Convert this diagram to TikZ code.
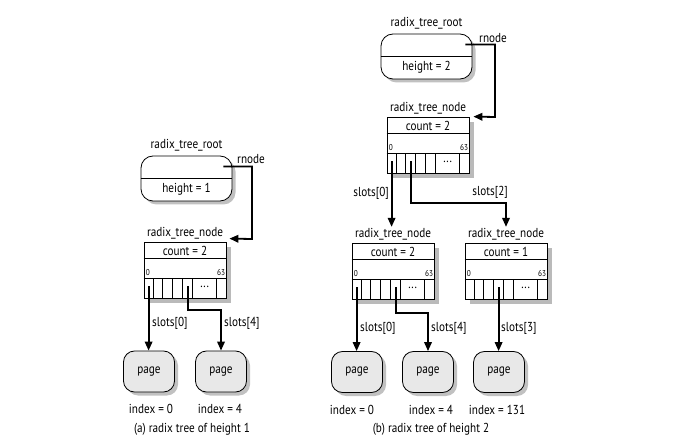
\documentclass[tikz,border=0pt]{standalone}
\usepackage{fontspec}
\setmainfont{PT Sans}[FakeStretch=0.86]
\usetikzlibrary{shadows,calc,arrows.meta}
\tikzset{
  lbl/.style={font=\fontsize{13}{15}\selectfont, inner sep=1pt},
  tiny/.style={font=\fontsize{8.5}{9}\selectfont, inner sep=0pt},
  rootbox/.style={draw, line width=0.8pt, rounded corners=12pt, minimum width=91pt,
    minimum height=45pt, fill=white, inner sep=0pt,
    drop shadow={shadow xshift=3.5pt, shadow yshift=-3.5pt, fill=black!40, opacity=0.6}},
  treebox/.style={draw, line width=0.8pt, minimum width=82pt, minimum height=56pt,
    fill=white, inner sep=0pt,
    drop shadow={shadow xshift=5pt, shadow yshift=-5pt, fill=black!45, opacity=0.6}},
  pagebox/.style={draw, line width=0.8pt, rounded corners=11pt, fill=black!9,
    minimum width=51pt, minimum height=41pt, inner sep=0pt,
    font=\fontsize{13}{15}\selectfont,
    drop shadow={shadow xshift=3.5pt, shadow yshift=-3.5pt, fill=black!40, opacity=0.6}},
  ptr/.style={line width=1.8pt, -{Triangle[length=9pt,width=7.5pt]}},
  thinline/.style={line width=0.6pt},
}
% #1 name, #2 left, #3 top, #4 count
\newcommand{\treenode}[4]{%
  \node[treebox] (#1) at ({#2+41},{#3+28}) {};
  \node[lbl] (#1-t) at ({#2+41},{#3-9}) {radix\_tree\_node};
  \node[lbl] (#1-c) at ({#2+41},{#3+8.5}) {count = #4};
  \draw[thinline] ($(#1.north west)+(0,17)$) -- ($(#1.north east)+(0,17)$);
  \draw[thinline] ($(#1.north west)+(0,37)$) -- ($(#1.north east)+(0,37)$);
  \foreach \dx in {10,19,29,39,49,73}{
    \draw[thinline] ($(#1.north west)+(\dx,37)$) -- ($(#1.north west)+(\dx,56)$);
  }
  \node[tiny, anchor=west] (#1-z) at ($(#1.north west)+(2,31)$) {0};
  \node[tiny, anchor=east] (#1-m) at ($(#1.north east)+(-1,31)$) {63};
  \node[lbl] (#1-d) at ($(#1.north west)+(61,45)$) {...};
  \coordinate (#1-s0) at ($(#1.north west)+(5,44.5)$);
  \coordinate (#1-s1) at ($(#1.north west)+(14.5,44.5)$);
  \coordinate (#1-s2) at ($(#1.north west)+(24,44.5)$);
  \coordinate (#1-s3) at ($(#1.north west)+(34,44.5)$);
  \coordinate (#1-s4) at ($(#1.north west)+(44,44.5)$);
}
% #1 name, #2 left, #3 top, #4 height
\newcommand{\rootnode}[4]{%
  \node[rootbox] (#1) at ({#2+45.5},{#3+22.5}) {};
  \node[lbl] (#1-t) at ({#2+45.5},{#3-11}) {radix\_tree\_root};
  \draw[thinline] (#1.west) -- (#1.east);
  \node[lbl] (#1-h) at ({#2+45.5},{#3+33.5}) {height = #4};
}
\begin{document}
\begin{tikzpicture}[x=1pt,y=-1pt]
\useasboundingbox[fill=white] (0,0) rectangle (680,446);

% ---------------- (a) ----------------
\rootnode{r1}{141}{156}{1}
\treenode{n1}{144}{242}{2}
\coordinate (r1-o) at ($(r1.north east)+(-9,11)$);
\coordinate (a-k) at (252,239);
\coordinate (n1-in) at ($(n1.north east)+(3,-3)$);
\node[lbl] (a-rn) at (251,159) {rnode};
\draw[ptr] (r1-o) -| (a-k) -- (n1-in);

\node[pagebox] (p1) at (149,371.5) {page};
\node[pagebox] (p2) at (221,371.5) {page};
\coordinate (a-b) at (221,310);
\draw[ptr] (n1-s0) -- (n1-s0 |- p1.north);
\draw[ptr] (n1-s4) |- (a-b) -- (p2.north);
\node[lbl, anchor=west] (a-l0) at (151,323) {slots[0]};
\node[lbl, anchor=west] (a-l4) at (223,323) {slots[4]};
\node[lbl] (a-i0) at (151,409) {index = 0};
\node[lbl] (a-i4) at (220,409) {index = 4};
\node[lbl] (a-cap) at (192,429) {(a) radix tree of height 1};

% ---------------- (b) ----------------
\rootnode{r2}{381}{34}{2}
\treenode{n2}{387}{117}{2}
\coordinate (r2-o) at ($(r2.north east)+(-7,11)$);
\coordinate (b-k) at (495,117);
\coordinate (n2-in) at ($(n2.north east)+(4,0)$);
\node[lbl] (b-rn) at (493,38) {rnode};
\draw[ptr] (r2-o) -| (b-k) -- (n2-in);

\treenode{n3}{352}{243}{2}
\treenode{n4}{465}{243}{1}
\coordinate (b-k2) at (506,203);
\draw[ptr] (n2-s0) -- (n2-s0 |- n3-t.north);
\draw[ptr] (n2-s2) |- (b-k2) -- (n4-t.north);
\node[lbl, anchor=east] (b-l0) at (390,193) {slots[0]};
\node[lbl, anchor=south east] (b-l2) at (509,200) {slots[2]};

\node[pagebox] (p3) at (357,372) {page};
\node[pagebox] (p4) at (428,372) {page};
\node[pagebox] (p5) at (499,372) {page};
\coordinate (b-b) at (428,313);
\draw[ptr] (n3-s0) -- (n3-s0 |- p3.north);
\draw[ptr] (n3-s4) |- (b-b) -- (p4.north);
\draw[ptr] (n4-s3) -- (n4-s3 |- p5.north);
\node[lbl, anchor=west] (b-l0b) at (359,328) {slots[0]};
\node[lbl, anchor=west] (b-l4b) at (430,328) {slots[4]};
\node[lbl, anchor=west] (b-l3b) at (500,328) {slots[3]};
\node[lbl] (b-i0) at (352,410) {index = 0};
\node[lbl] (b-i4) at (431,410) {index = 4};
\node[lbl] (b-i131) at (497,410) {index = 131};
\node[lbl] (b-cap) at (431,429) {(b) radix tree of height 2};
\end{tikzpicture}
\end{document}
